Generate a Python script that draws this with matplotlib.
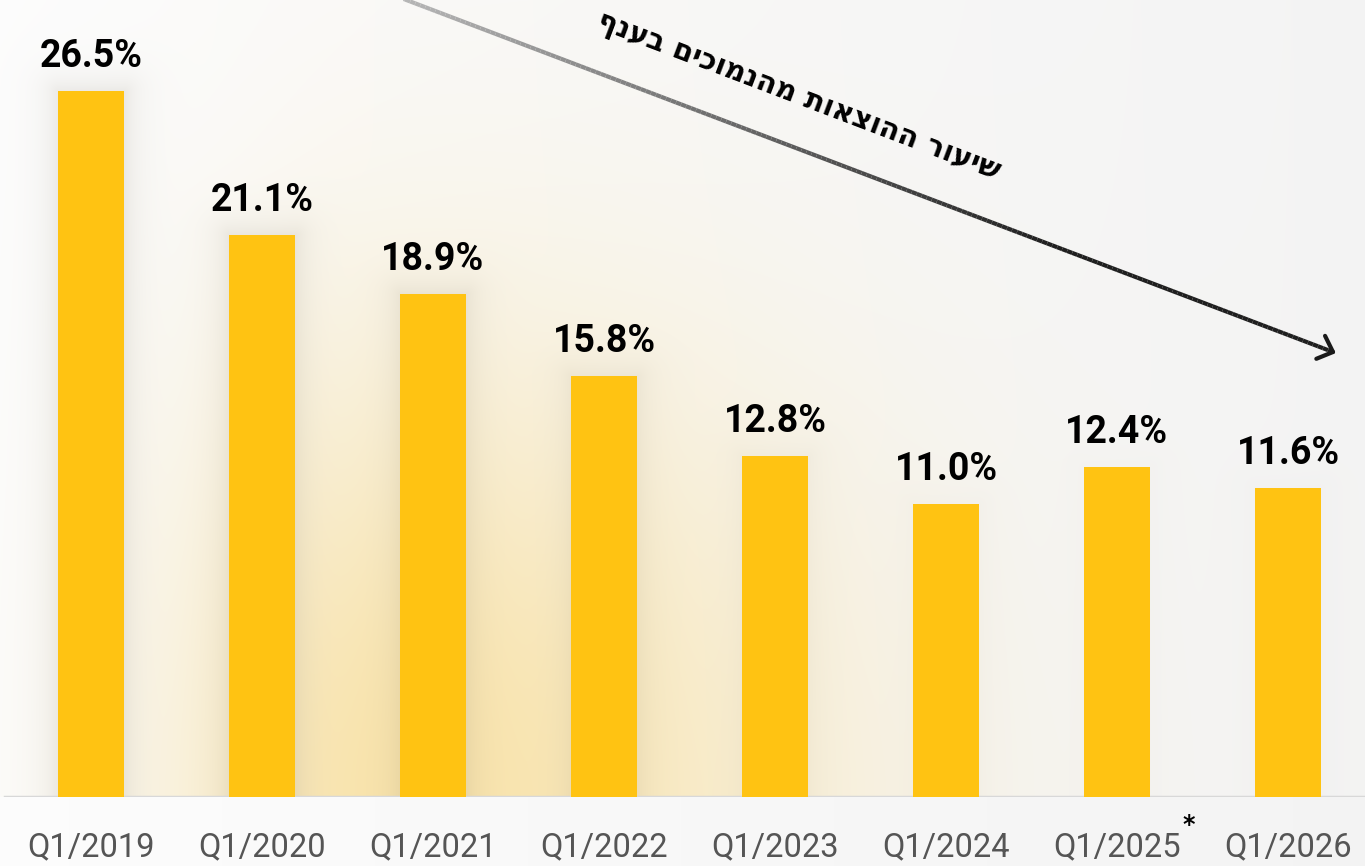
import numpy as np
import matplotlib
matplotlib.use('Agg')
import matplotlib.pyplot as plt
from matplotlib.collections import LineCollection

# data
quarters = ['Q1/2019', 'Q1/2020', 'Q1/2021', 'Q1/2022', 'Q1/2023', 'Q1/2024', 'Q1/2025', 'Q1/2026']
rates = [26.5, 21.1, 18.9, 15.8, 12.8, 11.0, 12.4, 11.6]
value_labels = ['26.5%', '21.1%', '18.9%', '15.8%', '12.8%', '11.0%', '12.4%', '11.6%']
note = 'שיעור ההוצאות מהנמוכים בענף'
starred = 6  # Q1/2025*

W, H = 1365, 866
fig = plt.figure(figsize=(W / 100, H / 100), dpi=100)
fig.patch.set_facecolor('#f6f6f6')

# background layer in pixel coords
bg = fig.add_axes([0, 0, 1, 1], zorder=0)
bg.set_xlim(0, W)
bg.set_ylim(H, 0)
bg.axis('off')

ax = fig.add_axes([0, 69 / H, 1, 797 / H], zorder=1)
ax.patch.set_alpha(0)
x = np.arange(len(rates))
ax.set_xlim(-91 / 171, (W - 91) / 171)
ax.set_ylim(0, 797 / 26.64)
bars = ax.bar(x, rates, width=66 / 171, color='#FFC312', zorder=3)

# background: light gray gradient + warm yellow glow + soft bar shadows
yy, xx = np.mgrid[0:H, 0:W].astype(float)
base = 0.99 - 0.035 * xx / W
img = np.dstack([base, base, base])
base_y = H - ax.transData.transform((0, 0))[1]
above = (yy < base_y).astype(float)
sx = np.where(xx < 400, 230.0, 430.0)
w = 0.85 * np.exp(-(((xx - 400) / sx) ** 2 + ((yy - 800) / 450) ** 2)) * above
yellow = np.array([0.98, 0.88, 0.62])
img = img * (1 - w[..., None]) + yellow * w[..., None]

strength = [0.15, 0.15, 0.14, 0.11, 0.06, 0.03, 0.02, 0.02]
shadow = np.array([0.55, 0.52, 0.45])
for b, s in zip(bars, strength):
    bb = b.get_window_extent()
    px0, px1 = bb.x0, bb.x1
    py0, py1 = H - bb.y1, H - bb.y0
    dx = np.maximum(np.maximum(px0 - xx, 0), xx - px1)
    dy = np.maximum(np.maximum(py0 - yy, 0), yy - py1)
    d = np.hypot(dx, dy)
    a = s * np.exp(-d / 16) * above
    img = img * (1 - a[..., None]) + shadow * a[..., None]

bg.imshow(np.clip(img, 0, 1), extent=(0, W, H, 0), aspect='auto', interpolation='bilinear')

# baseline
ax.axhline(0, xmin=5 / W, xmax=1, color='#d8d8d8', lw=2.5, zorder=2)

for s in ax.spines.values():
    s.set_visible(False)
ax.set_yticks([])
ax.set_xticks(x, quarters)
ax.tick_params(axis='x', length=0, pad=25, labelsize=23.5, labelcolor='#555555')
for t in ax.get_xticklabels():
    t.set_family('Roboto')

for xi, v, lab in zip(x, rates, value_labels):
    ax.annotate(lab, (xi, v), xytext=(0, 17), textcoords='offset points',
                ha='center', va='baseline', fontsize=27, fontweight='bold',
                family='Roboto', color='black')

ax.annotate('*', (x[starred], 0), xytext=(52, -20), textcoords='offset points',
            ha='center', va='center', fontsize=17, fontweight='bold', color='black',
            annotation_clip=False)

# trend arrow with gray-to-black gradient
start = np.array([330.0, -29.0])
end = np.array([1333.0, 352.0])
t = np.linspace(0, 1, 201)
pts = start + t[:, None] * (end - start)
segs = np.stack([pts[:-1], pts[1:]], axis=1)
g = np.clip(0.78 - (t[:-1] / 0.72) * 0.66, 0.12, 1)
lc = LineCollection(segs, colors=np.column_stack([g, g, g]), linewidths=3.0, capstyle='butt')
bg.add_collection(lc)

u = (end - start) / np.linalg.norm(end - start)
ang = np.arctan2(-u[1], -u[0])
for da in (np.radians(43), -np.radians(43)):
    tip = end + 18 * np.array([np.cos(ang + da), np.sin(ang + da)])
    bg.plot([end[0], tip[0]], [end[1], tip[1]], color='#1a1a1a', lw=3.0,
            solid_capstyle='round')

rot = -np.degrees(np.arctan2(end[1] - start[1], end[0] - start[0]))
bg.text(798, 97, note[::-1], rotation=rot, rotation_mode='anchor',
        ha='center', va='center', fontsize=21, fontweight='bold',
        family='DejaVu Sans', color='black')

fig.savefig('out.png', dpi=100)
